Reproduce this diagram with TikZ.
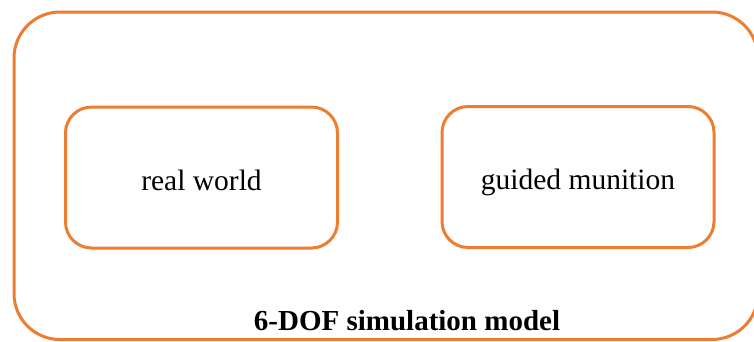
\documentclass[tikz,border=0pt]{standalone}
\usepackage{fontspec}
\setmainfont{Liberation Serif}
\definecolor{borderorange}{HTML}{ED7D31}
\begin{document}
\begin{tikzpicture}[x=1pt,y=-1pt,
  frame/.style={draw=borderorange,line width=3pt},
  innerbox/.style={frame,rounded corners=26pt,minimum width=272pt,minimum height=141pt,inner sep=0pt,font=\fontsize{29.5}{34}\selectfont},
  title/.style={font=\fontsize{29}{34}\selectfont\bfseries}]
\useasboundingbox (0,0) rectangle (754,341);
\begin{scope}
\clip (0,0) rectangle (754,341);
\draw[frame,rounded corners=46pt] (14,12) rectangle (758,339.5);
\end{scope}
\node[innerbox] (real) at (201.5,177.5) {\raisebox{-12.5pt}[0pt][0pt]{real world}};
\node[innerbox] (guided) at (578,177) {\raisebox{-12.5pt}[0pt][0pt]{guided munition}};
\node[title] (model) at (407,321) {6-DOF simulation model};
\end{tikzpicture}
\end{document}
